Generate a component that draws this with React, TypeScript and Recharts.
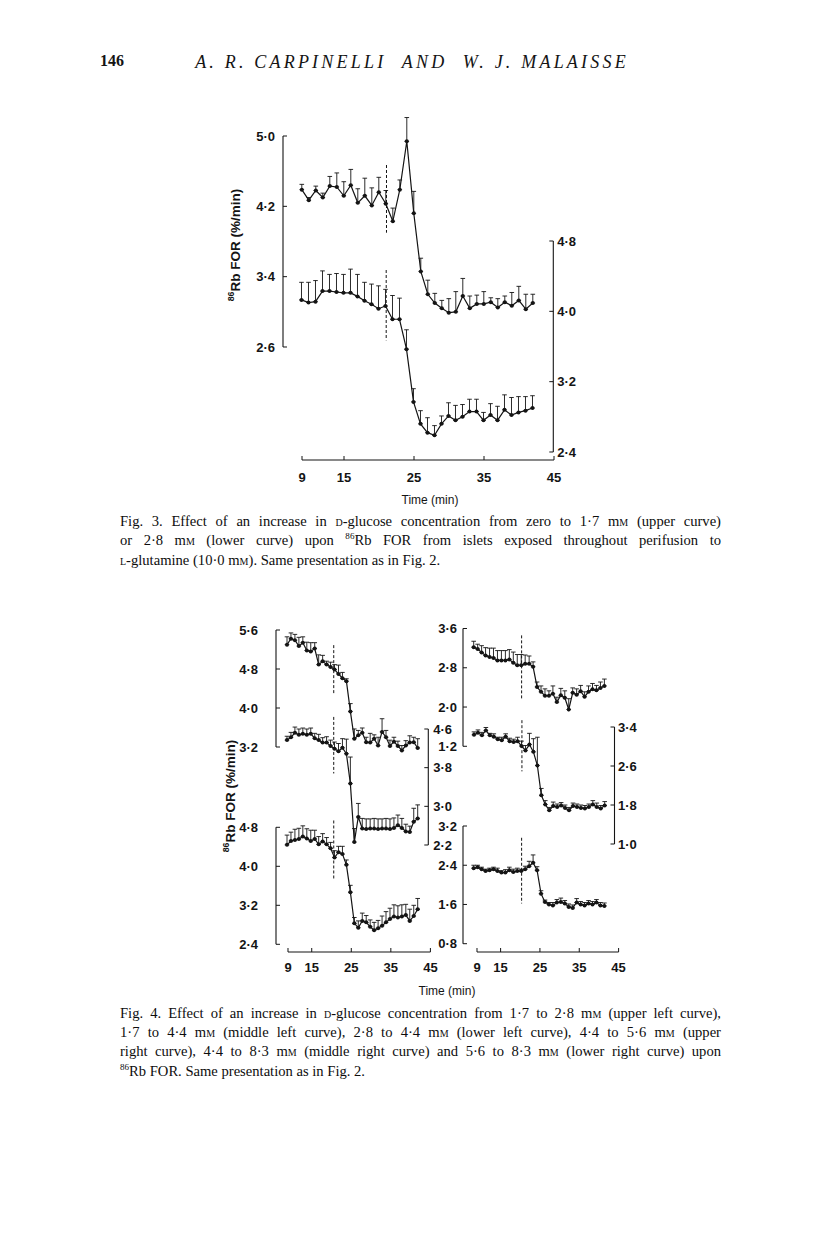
import React from 'react';
import { LineChart, Line, XAxis, YAxis, ErrorBar, ReferenceLine } from 'recharts';

// sampling minutes, shared by every curve
const TIME = [9, 10, 11, 12, 13, 14, 15, 16, 17, 18, 19, 20, 21, 22, 23, 24, 25, 26, 27, 28, 29, 30, 31, 32, 33, 34, 35, 36, 37, 38, 39, 40, 41, 42];
const TIME_TICKS = [9, 15, 25, 35, 45];

// Fig. 3 (upper curve on left scale, lower curve on right scale)
const F3_UPPER = [4.39, 4.27, 4.38, 4.30, 4.43, 4.42, 4.32, 4.44, 4.24, 4.32, 4.21, 4.36, 4.23, 4.03, 4.39, 4.94, 4.12, 3.46, 3.20, 3.10, 3.04, 2.99, 3.00, 3.18, 3.04, 3.09, 3.09, 3.11, 3.05, 3.11, 3.07, 3.13, 3.03, 3.10];
const F3_UPPER_SEM = [0.06, 0.03, 0.05, 0.05, 0.11, 0.16, 0.16, 0.18, 0.16, 0.20, 0.20, 0.17, 0.15, 0.15, 0.11, 0.27, 0.25, 0.15, 0.16, 0.11, 0.09, 0.16, 0.23, 0.20, 0.14, 0.10, 0.14, 0.05, 0.10, 0.07, 0.15, 0.16, 0.17, 0.10];
const F3_LOWER = [4.13, 4.10, 4.11, 4.23, 4.23, 4.22, 4.21, 4.21, 4.17, 4.12, 4.08, 4.03, 4.06, 3.91, 3.91, 3.57, 2.97, 2.72, 2.62, 2.59, 2.72, 2.81, 2.76, 2.80, 2.86, 2.86, 2.76, 2.82, 2.76, 2.88, 2.82, 2.85, 2.87, 2.90];
const F3_LOWER_SEM = [0.20, 0.23, 0.24, 0.23, 0.19, 0.21, 0.21, 0.27, 0.25, 0.21, 0.23, 0.26, 0.19, 0.27, 0.24, 0.22, 0.15, 0.15, 0.17, 0.11, 0.09, 0.15, 0.17, 0.14, 0.14, 0.14, 0.09, 0.13, 0.16, 0.17, 0.20, 0.18, 0.16, 0.14];
const F3_LEFT_TICKS = [2.6, 3.4, 4.2, 5.0];
const F3_RIGHT_TICKS = [2.4, 3.2, 4.0, 4.8];

// Fig. 4, left column
const F4_TL = [5.30, 5.42, 5.39, 5.27, 5.34, 5.18, 5.16, 5.22, 4.89, 4.96, 4.89, 4.84, 4.79, 4.70, 4.61, 4.55, 3.93, 3.37, 3.44, 3.49, 3.30, 3.29, 3.37, 3.23, 3.51, 3.40, 3.22, 3.31, 3.22, 3.13, 3.23, 3.29, 3.30, 3.18];
const F4_TL_SEM = [0.16, 0.12, 0.12, 0.18, 0.12, 0.17, 0.18, 0.12, 0.20, 0.12, 0.07, 0.10, 0.10, 0.18, 0.12, 0.05, 0.16, 0.20, 0.10, 0.10, 0.10, 0.19, 0.08, 0.17, 0.27, 0.14, 0.12, 0.09, 0.10, 0.10, 0.10, 0.14, 0.10, 0.19];
const F4_ML = [4.37, 4.43, 4.52, 4.48, 4.50, 4.48, 4.50, 4.41, 4.37, 4.32, 4.32, 4.25, 4.19, 4.14, 4.21, 4.09, 3.47, 2.26, 2.78, 2.54, 2.53, 2.54, 2.54, 2.53, 2.54, 2.54, 2.53, 2.55, 2.61, 2.55, 2.48, 2.47, 2.68, 2.75];
const F4_ML_SEM = [0.08, 0.10, 0.12, 0.12, 0.12, 0.12, 0.12, 0.10, 0.12, 0.10, 0.12, 0.12, 0.14, 0.16, 0.19, 0.30, 0.55, 0.28, 0.28, 0.21, 0.21, 0.20, 0.21, 0.21, 0.20, 0.21, 0.21, 0.21, 0.21, 0.20, 0.15, 0.12, 0.28, 0.28];
const F4_LL = [4.44, 4.52, 4.54, 4.56, 4.61, 4.57, 4.52, 4.56, 4.45, 4.51, 4.45, 4.37, 4.18, 4.29, 4.25, 4.03, 3.47, 2.83, 2.74, 2.88, 2.85, 2.76, 2.69, 2.73, 2.78, 2.85, 2.92, 2.97, 2.95, 2.97, 3.00, 2.88, 2.98, 3.12];
const F4_LL_SEM = [0.20, 0.18, 0.22, 0.22, 0.22, 0.20, 0.22, 0.18, 0.16, 0.16, 0.14, 0.12, 0.14, 0.12, 0.16, 0.10, 0.14, 0.12, 0.14, 0.16, 0.14, 0.14, 0.16, 0.16, 0.20, 0.22, 0.22, 0.24, 0.24, 0.24, 0.22, 0.24, 0.22, 0.22];

// Fig. 4, right column
const F4_TR = [3.22, 3.18, 3.11, 3.05, 3.02, 3.00, 2.95, 2.95, 2.95, 2.97, 2.90, 2.85, 2.85, 2.88, 2.88, 2.82, 2.41, 2.31, 2.23, 2.23, 2.27, 2.10, 2.24, 2.19, 1.95, 2.29, 2.25, 2.32, 2.21, 2.31, 2.36, 2.34, 2.39, 2.43];
const F4_TR_SEM = [0.12, 0.10, 0.14, 0.16, 0.18, 0.20, 0.20, 0.20, 0.20, 0.20, 0.22, 0.22, 0.22, 0.18, 0.16, 0.10, 0.10, 0.12, 0.14, 0.10, 0.16, 0.10, 0.14, 0.14, 0.22, 0.10, 0.12, 0.12, 0.10, 0.12, 0.12, 0.10, 0.12, 0.14];
const F4_MR = [3.24, 3.28, 3.23, 3.33, 3.23, 3.20, 3.15, 3.13, 3.20, 3.11, 3.09, 3.11, 3.01, 2.92, 3.04, 2.89, 2.61, 2.00, 1.81, 1.69, 1.78, 1.76, 1.79, 1.74, 1.69, 1.78, 1.76, 1.74, 1.73, 1.76, 1.81, 1.76, 1.73, 1.79];
const F4_MR_SEM = [0.06, 0.06, 0.06, 0.06, 0.04, 0.06, 0.04, 0.06, 0.06, 0.06, 0.06, 0.08, 0.10, 0.10, 0.23, 0.27, 0.58, 0.14, 0.08, 0.06, 0.08, 0.06, 0.06, 0.06, 0.06, 0.06, 0.06, 0.06, 0.06, 0.06, 0.08, 0.08, 0.06, 0.08];
const F4_LR = [2.34, 2.36, 2.32, 2.28, 2.30, 2.32, 2.28, 2.25, 2.25, 2.30, 2.26, 2.28, 2.28, 2.32, 2.38, 2.45, 2.30, 1.82, 1.65, 1.60, 1.58, 1.64, 1.65, 1.62, 1.55, 1.53, 1.64, 1.60, 1.58, 1.62, 1.60, 1.64, 1.58, 1.57];
const F4_LR_SEM = [0.06, 0.04, 0.04, 0.04, 0.04, 0.04, 0.06, 0.04, 0.06, 0.06, 0.06, 0.06, 0.04, 0.06, 0.10, 0.16, 0.07, 0.06, 0.04, 0.04, 0.06, 0.06, 0.08, 0.06, 0.06, 0.06, 0.08, 0.06, 0.06, 0.06, 0.06, 0.06, 0.06, 0.06];

const INK = '#141414';
const AXIS_W = 44;
const SANS = '"Liberation Sans", Arial, sans-serif';
const SERIF = '"Liberation Serif", "Times New Roman", serif';
const tickFont = { fill: INK, fontSize: 13, fontWeight: 700, fontFamily: SANS };
const fmt = (v: number) => v.toFixed(1).replace('.', '\u00b7');

// calibration: value a sits at page pixel pa, value b at pb
type Cal = [number, number, number, number];
const at = ([a, pa, b, pb]: Cal, px: number) => a + ((px - pa) * (b - a)) / (pb - pa);

const X3: Cal = [9, 301.5, 45, 553.5];
const X4L: Cal = [9, 287, 42, 417.7];
const X4R: Cal = [9, 474, 42, 604.7];

interface TraceProps {
  values: number[];
  sem: number[];
  xCal: Cal;
  yCal: Cal;
  box: [number, number, number, number]; // left, top, right, bottom of plot area on the page
  side: 'left' | 'right';
  ticks: number[];
  switchAt: number;
  dash: [number, number];
  gap: number;
}

function Trace({ values, sem, xCal, yCal, box, side, ticks, switchAt, dash, gap }: TraceProps) {
  const [l, t, r, b] = box;
  const data = TIME.map((m, i) => ({ m, v: values[i], e: [0, sem[i]] }));
  const xDom = [at(xCal, l), at(xCal, r)];
  const yDom = [at(yCal, b), at(yCal, t)];
  const edge = side === 'left' ? xDom[0] : xDom[1];
  return (
    <div style={{ position: 'absolute', left: side === 'left' ? l - AXIS_W : l, top: t }}>
      <LineChart width={r - l + AXIS_W} height={b - t} data={data} margin={{ top: 0, right: 0, bottom: 0, left: 0 }}>
        <XAxis type="number" dataKey="m" domain={xDom} allowDataOverflow hide />
        <YAxis
          orientation={side}
          width={AXIS_W}
          domain={yDom}
          allowDataOverflow
          ticks={ticks}
          interval={0}
          tickFormatter={fmt}
          axisLine={false}
          tickLine={{ stroke: INK }}
          tickSize={-4}
          tickMargin={gap + 4}
          tick={tickFont}
        />
        {/* axis bracket only spans the labelled range */}
        <ReferenceLine
          segment={[{ x: edge, y: ticks[0] }, { x: edge, y: ticks[ticks.length - 1] }]}
          stroke={INK}
          strokeWidth={1.1}
          ifOverflow="visible"
        />
        {/* glucose switch */}
        <ReferenceLine
          segment={[{ x: switchAt, y: dash[0] }, { x: switchAt, y: dash[1] }]}
          stroke={INK}
          strokeDasharray="3 2"
          ifOverflow="visible"
        />
        <Line
          type="linear"
          dataKey="v"
          stroke={INK}
          strokeWidth={1.2}
          dot={{ r: 2, fill: INK, stroke: 'none' }}
          activeDot={false}
          isAnimationActive={false}
        >
          <ErrorBar dataKey="e" direction="y" width={2.3} stroke={INK} strokeWidth={0.9} isAnimationActive={false} />
        </Line>
      </LineChart>
    </div>
  );
}

function TimeAxis({ from, to, y, margin }: { from: number; to: number; y: number; margin: number }) {
  const pad = 14;
  const data = TIME.map((m) => ({ m, v: 0 }));
  return (
    <div style={{ position: 'absolute', left: from - pad, top: y - 1 }}>
      <LineChart width={to - from + 2 * pad} height={37} data={data} margin={{ top: 0, right: pad, bottom: 0, left: pad }}>
        <XAxis
          type="number"
          dataKey="m"
          domain={[9, 45]}
          allowDataOverflow
          ticks={TIME_TICKS}
          interval={0}
          height={36}
          axisLine={{ stroke: INK, strokeWidth: 1.1 }}
          tickLine={{ stroke: INK }}
          tickSize={-4}
          tickMargin={margin}
          tick={tickFont}
        />
        <YAxis hide domain={[0, 1]} />
        <Line dataKey="v" stroke="none" dot={false} activeDot={false} isAnimationActive={false} />
      </LineChart>
    </div>
  );
}

const sc = (s: string) => <span style={{ fontVariant: 'small-caps' }}>{s}</span>;
const mM = <>m{sc('m')}</>;
const rb = <><sup style={{ fontSize: '0.62em', lineHeight: 0 }}>86</sup>Rb</>;

function CapLine({ top, last, children }: { top: number; last?: boolean; children: React.ReactNode }) {
  return (
    <div
      style={{
        position: 'absolute',
        left: 120,
        top,
        width: 601,
        fontFamily: SERIF,
        fontSize: 14.6,
        lineHeight: '19px',
        color: '#0d0d0d',
        textAlign: last ? 'left' : 'justify',
        textAlignLast: last ? 'left' : 'justify',
      }}
    >
      {children}
    </div>
  );
}

function YLabel({ x, y }: { x: number; y: number }) {
  return (
    <div
      style={{
        position: 'absolute',
        left: x,
        top: y,
        transform: 'translate(-50%, -50%) rotate(-90deg)',
        whiteSpace: 'nowrap',
        fontFamily: SANS,
        fontWeight: 700,
        fontSize: 13.5,
        color: INK,
      }}
    >
      <sup style={{ fontSize: '0.65em', lineHeight: 0 }}>86</sup>Rb FOR (%/min)
    </div>
  );
}

function TimeLabel({ x, y }: { x: number; y: number }) {
  return (
    <div style={{ position: 'absolute', left: x, top: y, transform: 'translate(-50%, -50%)', fontFamily: SANS, fontSize: 12, color: INK, whiteSpace: 'nowrap' }}>
      Time (min)
    </div>
  );
}

export default function App() {
  return (
    <div style={{ position: 'absolute', left: 0, top: 0, width: 816, height: 1243, background: '#fff', overflow: 'hidden' }}>
      <style>{'.recharts-surface{overflow:visible}'}</style>

      <div style={{ position: 'absolute', left: 100, top: 52, fontFamily: SERIF, fontWeight: 700, fontSize: 16, color: INK }}>146</div>
      <div style={{ position: 'absolute', left: 412, top: 62, transform: 'translate(-50%, -50%)', whiteSpace: 'nowrap', fontFamily: SERIF, fontStyle: 'italic', fontSize: 18, letterSpacing: 3.2, color: INK }}>
        A. R. CARPINELLI&nbsp;&nbsp;AND&nbsp;&nbsp;W. J. MALAISSE
      </div>

      {/* Fig. 3 */}
      <Trace values={F3_UPPER} sem={F3_UPPER_SEM} xCal={X3} yCal={[5.0, 136, 2.6, 347]} box={[282.7, 100, 553.5, 356]} side="left" ticks={F3_LEFT_TICKS} switchAt={21.1} dash={[4.67, 3.9]} gap={8} />
      <Trace values={F3_LOWER} sem={F3_LOWER_SEM} xCal={X3} yCal={[4.8, 241, 2.4, 452]} box={[290, 225, 553.3, 462]} side="right" ticks={F3_RIGHT_TICKS} switchAt={21.1} dash={[4.47, 3.67]} gap={4} />
      <TimeAxis from={301.5} to={553.5} y={460} margin={17} />
      <YLabel x={235} y={245} />
      <TimeLabel x={430} y={500} />

      <CapLine top={512}>Fig. 3. Effect of an increase in {sc('d')}-glucose concentration from zero to 1·7 {mM} (upper curve)</CapLine>
      <CapLine top={531}>or 2·8 {mM} (lower curve) upon {rb} FOR from islets exposed throughout perifusion to</CapLine>
      <CapLine top={551} last>{sc('l')}-glutamine (10·0 {mM}). Same presentation as in Fig. 2.</CapLine>

      {/* Fig. 4 */}
      <Trace values={F4_TL} sem={F4_TL_SEM} xCal={X4L} yCal={[5.6, 630, 3.2, 747]} box={[276, 615, 428, 760]} side="left" ticks={[3.2, 4.0, 4.8, 5.6]} switchAt={20.8} dash={[5.29, 4.29]} gap={18} />
      <Trace values={F4_ML} sem={F4_ML_SEM} xCal={X4L} yCal={[4.6, 729, 2.2, 845]} box={[280, 700, 428.3, 853]} side="right" ticks={[2.2, 3.0, 3.8, 4.6]} switchAt={20.8} dash={[4.85, 3.68]} gap={5} />
      <Trace values={F4_LL} sem={F4_LL_SEM} xCal={X4L} yCal={[4.8, 827.3, 2.4, 944.3]} box={[276, 805, 428, 952]} side="left" ticks={[2.4, 3.2, 4.0, 4.8]} switchAt={20.8} dash={[4.94, 3.72]} gap={18} />
      <Trace values={F4_TR} sem={F4_TR_SEM} xCal={X4R} yCal={[3.6, 628.5, 1.2, 746.3]} box={[463.3, 615, 614, 755]} side="left" ticks={[1.2, 2.0, 2.8, 3.6]} switchAt={21.1} dash={[3.46, 2.14]} gap={6} />
      <Trace values={F4_MR} sem={F4_MR_SEM} xCal={X4R} yCal={[3.4, 727, 1.0, 844]} box={[466, 712, 614.5, 852]} side="right" ticks={[1.0, 1.8, 2.6, 3.4]} switchAt={21.1} dash={[3.54, 2.49]} gap={3.5} />
      <Trace values={F4_LR} sem={F4_LR_SEM} xCal={X4R} yCal={[3.2, 826, 0.8, 943.7]} box={[463.3, 812, 614, 952]} side="left" ticks={[0.8, 1.6, 2.4, 3.2]} switchAt={21.1} dash={[2.96, 1.62]} gap={6} />
      <TimeAxis from={288.3} to={430.7} y={952.3} margin={15} />
      <TimeAxis from={476.7} to={618.3} y={952.3} margin={15} />
      <YLabel x={230} y={796} />
      <TimeLabel x={447} y={991} />

      <CapLine top={1004}>Fig. 4. Effect of an increase in {sc('d')}-glucose concentration from 1·7 to 2·8 {mM} (upper left curve),</CapLine>
      <CapLine top={1023}>1·7 to 4·4 {mM} (middle left curve), 2·8 to 4·4 {mM} (lower left curve), 4·4 to 5·6 {mM} (upper</CapLine>
      <CapLine top={1042}>right curve), 4·4 to 8·3 {mM} (middle right curve) and 5·6 to 8·3 {mM} (lower right curve) upon</CapLine>
      <CapLine top={1062} last>{rb} FOR. Same presentation as in Fig. 2.</CapLine>
    </div>
  );
}
